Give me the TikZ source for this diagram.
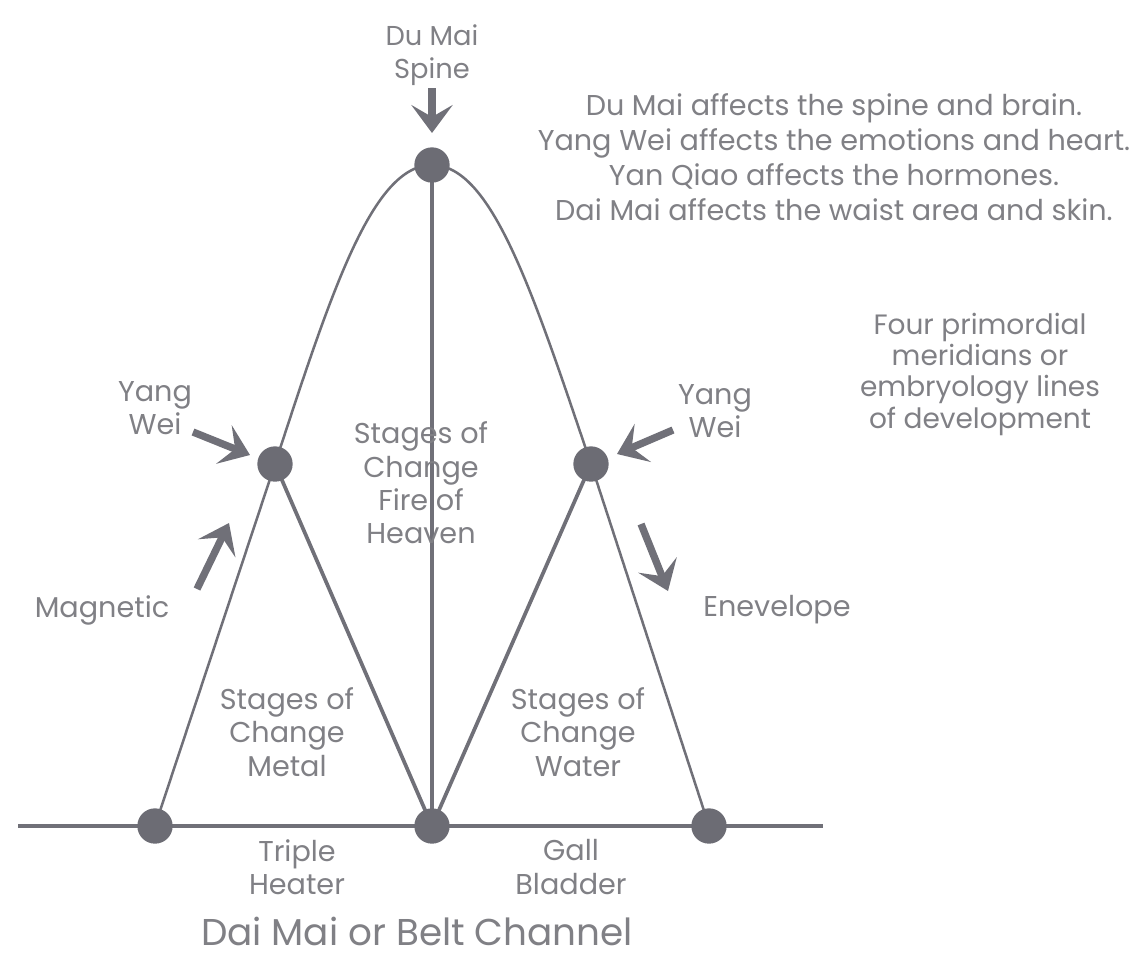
\documentclass[tikz,border=0pt]{standalone}
\usepackage{fontspec}
\setmainfont{Poppins}
\usetikzlibrary{arrows.meta, backgrounds}
\definecolor{txtclr}{RGB}{128,128,133}
\definecolor{lnclr} {RGB}{112,112,120}
\definecolor{dotclr}{RGB}{108,108,116}

\begin{document}
\begin{tikzpicture}[
    x=0.75pt, y=-0.75pt,
    dot/.style   ={circle, fill=dotclr, inner sep=0pt, minimum size=26.5pt},
    lbl/.style   ={text=txtclr, align=center, inner sep=0pt,
                   font=\fontsize{21.5}{25}\selectfont},
    note/.style  ={lbl, font=\fontsize{21.5}{26.25}\selectfont},
    thin/.style  ={draw=lnclr, line width=1.9pt},
    bar/.style   ={draw=lnclr, line width=2.8pt},
    pointer/.style={draw=lnclr, line width=5.5pt,
                   -{Stealth[length=21pt, width=31pt, inset=9pt]}},
]
\path[use as bounding box] (0,0) rectangle (1132,958);

% =============== Dots ===============
\node[dot] (top)  at (432,165) {};
\node[dot] (lmid) at (275,464) {};
\node[dot] (rmid) at (591,464) {};
\node[dot] (bl)   at (155,826) {};
\node[dot] (bc)   at (432,826) {};
\node[dot] (br)   at (709,826) {};

\begin{scope}[on background layer]
% =============== Belt line ===============
\coordinate (beltW) at (18,826);
\coordinate (beltE) at (823,826);
\draw[bar, line width=3pt] (beltW) -- (beltE);

% =============== Outer arch ===============
\draw[thin] (bl.center) -- (lmid.center)
  .. controls (331,293) and (372,165) .. (top.center)
  .. controls (492,165) and (533,293) .. (rmid.center) -- (br.center);

% =============== Inner lines ===============
\draw[bar, line width=3pt] (top.center) -- (bc.center);
\draw[bar] (lmid.center) -- (bc.center);
\draw[bar] (rmid.center) -- (bc.center);
\end{scope}

% =============== Arrows ===============
\coordinate (duA)  at (432,88);   \coordinate (duB)  at (432,133);
\coordinate (ywlA) at (193,432);  \coordinate (ywlB) at (250,455);
\coordinate (magA) at (197,589);  \coordinate (magB) at (229,523);
\coordinate (ywrA) at (673,430);  \coordinate (ywrB) at (617,454);
\coordinate (envA) at (641,524);  \coordinate (envB) at (668,591);
\foreach \a/\b in {duA/duB, ywlA/ywlB, magA/magB, ywrA/ywrB, envA/envB}{%
  \draw[pointer] (\a) -- (\b);
}

% =============== Labels ===============
\node[lbl, font=\fontsize{20.5}{25}\selectfont] (duLbl) at (432,55) {Du Mai\\Spine};
\node[note] (effects) at (834,157) {Du Mai affects the spine and brain.\\
  Yang Wei affects the emotions and heart.\\
  Yan Qiao affects the hormones.\\
  Dai Mai affects the waist area and skin.};
\node[lbl, font=\fontsize{21}{23.5}\selectfont] (primo) at (980,374)
  {Four primordial\\meridians or\\embryology lines\\of development};
\node[lbl] (ywlLbl) at (155,408) {Yang\\Wei};
\node[lbl] (ywrLbl) at (715,411) {Yang\\Wei};
\node[lbl] (fire)   at (421,483) {Stages of\\Change\\Fire of\\Heaven};
\node[lbl] (magLbl) at (102,610) {Magnetic};
\node[lbl] (envLbl) at (777,610) {Enevelope};
\node[lbl] (metal)  at (287,732) {Stages of\\Change\\Metal};
\node[lbl] (water)  at (578,732) {Stages of\\Change\\Water};
\node[lbl] (triple) at (297,867) {Triple\\Heater};
\node[lbl] (gall)   at (571,867) {Gall\\Bladder};
\node[lbl, font=\fontsize{28}{32}\selectfont] (title) at (417,931)
  {Dai Mai or Belt Channel};

\end{tikzpicture}
\end{document}
